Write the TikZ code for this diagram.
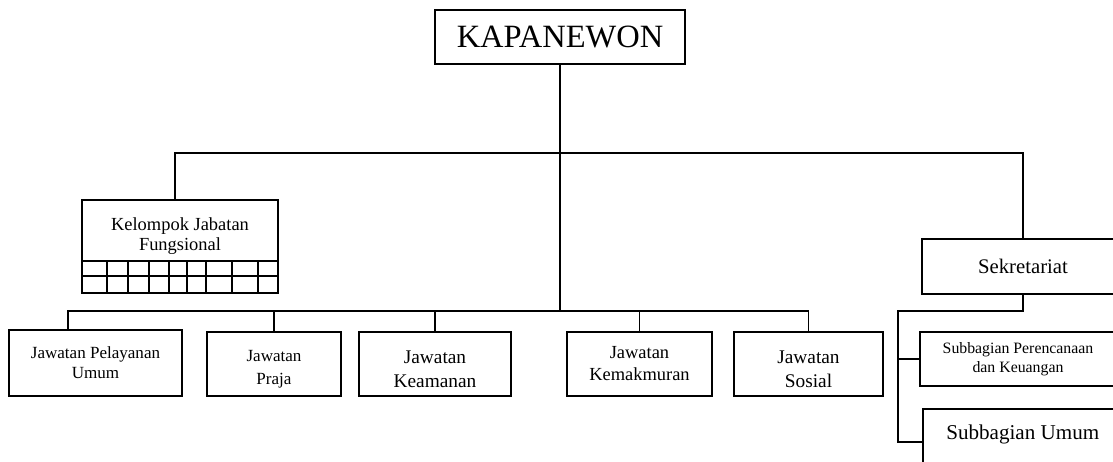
\documentclass[tikz,border=0pt]{standalone}
\usepackage{fontspec}
\setmainfont{Liberation Serif}
\newlength{\px}
\setlength{\px}{0.02cm}
\tikzset{
  unitbox/.style={draw=black, line width=0.9pt, align=center, inner sep=0pt},
  orgline/.style={line width=0.9pt, line cap=rect},
}
\newcommand{\fs}[2]{\fontsize{#1}{#2}\selectfont}

\begin{document}
\begin{tikzpicture}[yscale=-1]
\useasboundingbox (0,0) rectangle (1113\px,461\px);
\clip (0,0) rectangle (1113\px,461\px);
% top
\node[unitbox, minimum width=250\px, minimum height=54\px, font=\fs{18.5}{21}] (kapanewon) at (560\px,37\px) {KAPANEWON};
% setfont left to latex
\node[unitbox, minimum width=196\px, minimum height=61\px, font=\fs{10.5}{11.3}] (kelompok) at (180\px,230.5\px) {\rule{0pt}{14pt}Kelompok Jabatan\\Fungsional};
\draw[line width=0.9pt] (82\px,261\px) rectangle (278\px,293\px);
\draw[line width=0.9pt] (82\px,276\px) -- (278\px,276\px);
\foreach \gx in {107,128,149,169,187,206,232,258}
  \draw[line width=0.9pt] (\gx\px,261\px) -- (\gx\px,293\px);
\node[unitbox, minimum width=202\px, minimum height=55\px, font=\fs{11.8}{14}] (sekretariat) at (1023\px,266.5\px) {Sekretariat};
% jawatan
\node[unitbox, minimum width=173\px, minimum height=66\px, font=\fs{9.7}{11.3}] (pelayanan) at (95.5\px,363\px) {Jawatan Pelayanan\\Umum};
\node[unitbox, minimum width=134\px, minimum height=64\px, font=\fs{9.7}{13}] (praja) at (274\px,364\px) {\rule{0pt}{12pt}Jawatan\\Praja};
\node[unitbox, minimum width=152\px, minimum height=64\px, font=\fs{11}{14}] (keamanan) at (435\px,364\px) {\rule{0pt}{13pt}Jawatan\\Keamanan};
\node[unitbox, minimum width=145\px, minimum height=64\px, font=\fs{10.5}{12.5}] (kemakmuran) at (639.5\px,364\px) {Jawatan\\Kemakmuran};
\node[unitbox, minimum width=149\px, minimum height=64\px, font=\fs{11}{14}] (sosial) at (808.5\px,364\px) {\rule{0pt}{13pt}Jawatan\\Sosial};
% subbagian
\node[unitbox, minimum width=196\px, minimum height=54\px, font=\fs{9}{10.5}] (perencanaan) at (1018\px,359\px) {Subbagian Perencanaan\\dan Keuangan};
\node[unitbox, anchor=north west, minimum width=200\px, text height=17.6pt, text depth=20pt, font=\fs{12}{14}] (umum) at (922\px,408\px) {Subbagian Umum};
% connectors
\coordinate (topleft) at (175\px,153\px);
\coordinate (topright) at (1023\px,153\px);
\coordinate (barleft) at (68\px,311\px);
\coordinate (spine) at (898\px,311\px);
\draw[orgline] (topleft |- kelompok.north) -- (topleft) -- (topright) -- (sekretariat.north);
\draw[orgline] (kapanewon.south) -- (kapanewon.south |- barleft);
\draw[orgline] (barleft |- pelayanan.north) -- (barleft) -- (sosial.north |- barleft) -- (sosial.north);
\draw[orgline] (praja.north |- barleft) -- (praja.north);
\draw[orgline] (keamanan.north |- barleft) -- (keamanan.north);
\draw[orgline] (kemakmuran.north |- barleft) -- (kemakmuran.north);
\draw[orgline] (sekretariat.south) |- (spine) |- (umum.west);
\draw[orgline] (spine |- perencanaan.west) -- (perencanaan.west);
\end{tikzpicture}
\end{document}
